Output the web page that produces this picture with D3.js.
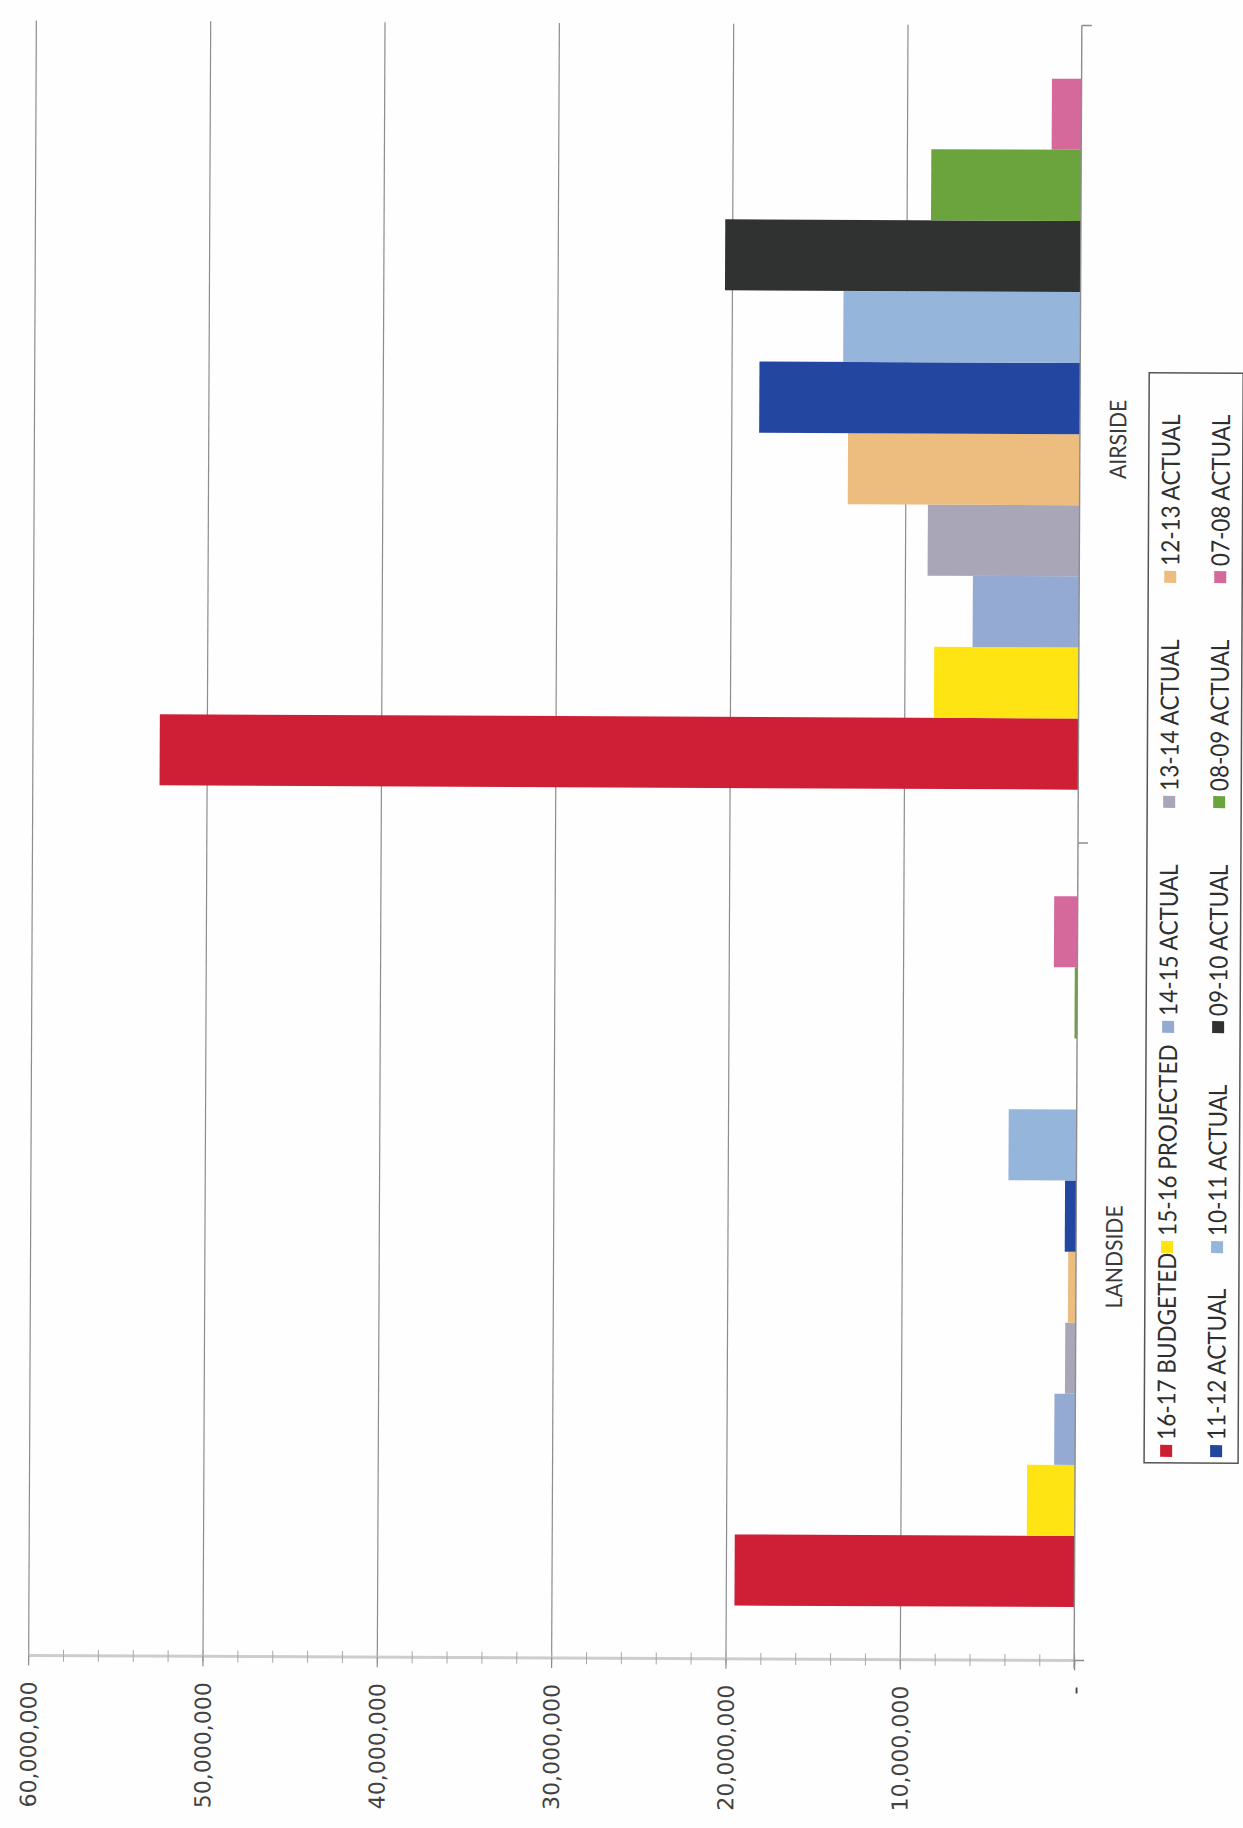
<!DOCTYPE html>
<html>
<head>
<meta charset="utf-8">
<title>Landside / Airside spending</title>
<script src="https://cdn.jsdelivr.net/npm/d3@7"></script>
<style>
  html, body { margin: 0; padding: 0; background: #fefefe; }
  svg { display: block; }
</style>
</head>
<body>
<svg id="chart" width="1243" height="1828"></svg>
<script>
// ---- data -------------------------------------------------------------
const categories = ["LANDSIDE", "AIRSIDE"];
const seriesNames = [
  "16-17 BUDGETED", "15-16 PROJECTED", "14-15 ACTUAL", "13-14 ACTUAL", "12-13 ACTUAL",
  "11-12 ACTUAL", "10-11 ACTUAL", "09-10 ACTUAL", "08-09 ACTUAL", "07-08 ACTUAL"
];
const landsideValues = [19500000, 2750000, 1200000, 600000, 450000, 650000, 3900000, 0, 150000, 1350000];
const airsideValues  = [52700000, 8300000, 6100000, 8700000, 13300000, 18400000, 13600000, 20400000, 8600000, 1700000];
const seriesColors = [
  "#cf1f36", "#ffe413", "#94aad2", "#a9a6b7", "#edbd80",
  "#2347a0", "#96b5da", "#2f3231", "#6ba33c", "#d5699c"
];
const tickValues = [0, 10000000, 20000000, 30000000, 40000000, 50000000, 60000000];
const tickLabels = ["-", "10,000,000", "20,000,000", "30,000,000", "40,000,000", "50,000,000", "60,000,000"];

const valuesByCategory = { LANDSIDE: landsideValues, AIRSIDE: airsideValues };

// ---- layout (page is printed sideways: value axis runs right-to-left) --
const plotTop = 23, plotBottom = 1658;
const zeroX = 1078, maxX = 32;
const narrowFont = "Lato, 'Open Sans', sans-serif";

const svg = d3.select("#chart");
const root = svg.append("g").attr("transform", "rotate(0.27 560 840)");

const x = d3.scaleLinear().domain([0, 60000000]).range([zeroX, maxX]);
const yCat = d3.scaleBand().domain(categories).range([plotBottom, plotTop]).padding(0);
const ySer = d3.scaleBand().domain(seriesNames).range([yCat.bandwidth(), 0])
  .paddingInner(0).paddingOuter(0.75);

// gridlines (major)
root.append("g")
  .attr("transform", `translate(0,${plotBottom})`)
  .call(d3.axisBottom(x).tickValues(tickValues.filter(v => v > 0))
    .tickSizeInner(-(plotBottom - plotTop)).tickSizeOuter(0).tickFormat(""))
  .call(g => g.select(".domain").remove())
  .call(g => g.selectAll("line").attr("stroke", "#8d8d8d").attr("stroke-width", 1.2));

// bars
const catGroups = root.append("g").selectAll("g.cat")
  .data(categories).join("g")
  .attr("class", "cat")
  .attr("transform", c => `translate(0,${yCat(c)})`);

catGroups.selectAll("rect")
  .data(c => seriesNames.map((s, i) => ({ s, i, v: valuesByCategory[c][i] })))
  .join("rect")
  .attr("x", d => x(d.v))
  .attr("width", d => x(0) - x(d.v))
  .attr("y", d => ySer(d.s))
  .attr("height", ySer.bandwidth())
  .attr("fill", d => seriesColors[d.i]);

// value axis line with minor and major ticks
root.append("line")
  .attr("x1", x(60000000)).attr("x2", x(0))
  .attr("y1", plotBottom).attr("y2", plotBottom)
  .attr("stroke", "#cdcdcd").attr("stroke-width", 3);

root.append("g")
  .attr("transform", `translate(0,${plotBottom - 6})`)
  .call(d3.axisBottom(x).tickValues(d3.range(0, 60000001, 2000000))
    .tickSizeInner(12).tickSizeOuter(0).tickFormat(""))
  .call(g => g.select(".domain").remove())
  .call(g => g.selectAll("line").attr("stroke", "#a8a8a8").attr("stroke-width", 1));

root.append("g")
  .attr("transform", `translate(0,${plotBottom})`)
  .call(d3.axisBottom(x).tickValues(tickValues)
    .tickSizeInner(10).tickSizeOuter(0).tickFormat(""))
  .call(g => g.select(".domain").remove())
  .call(g => g.selectAll("line").attr("stroke", "#8d8d8d").attr("stroke-width", 1.2));

// value axis labels (rotated)
root.append("g")
  .attr("transform", `translate(0,1684)`)
  .call(d3.axisBottom(x).tickValues(tickValues).tickSize(0)
    .tickFormat((d, i) => tickLabels[i]))
  .call(g => g.select(".domain").remove())
  .call(g => g.selectAll("text")
    .attr("x", 0).attr("y", 0).attr("dy", "0.36em")
    .attr("transform", "rotate(-90)")
    .attr("text-anchor", "end")
    .attr("font-family", "'DejaVu Sans', Verdana, sans-serif")
    .attr("font-size", 22)
    .attr("fill", "#424242"));

// category axis along zero
root.append("line")
  .attr("x1", x(0)).attr("x2", x(0))
  .attr("y1", plotTop).attr("y2", plotBottom + 8)
  .attr("stroke", "#8d8d8d").attr("stroke-width", 1.4);

const boundaries = [yCat("AIRSIDE"), yCat("LANDSIDE"), yCat("LANDSIDE") + yCat.bandwidth()];
root.append("g").selectAll("line").data(boundaries).join("line")
  .attr("x1", x(0)).attr("x2", x(0) + 10)
  .attr("y1", d => d).attr("y2", d => d)
  .attr("stroke", "#8d8d8d").attr("stroke-width", 1.4);

root.append("g").selectAll("text").data(categories).join("text")
  .attr("transform", c => `translate(1116,${yCat(c) + yCat.bandwidth() / 2 + 5}) rotate(-90) scale(0.92,1)`)
  .attr("text-anchor", "middle").attr("dy", "0.36em")
  .attr("font-family", narrowFont)
  .attr("font-size", 23)
  .attr("fill", "#3a3a3a")
  .text(c => c);

// legend: two rotated rows of five entries on a shared column grid
const legendBox = { x: 1147, y: 370, w: 94, h: 1090 };
root.append("rect")
  .attr("x", legendBox.x).attr("y", legendBox.y)
  .attr("width", legendBox.w).attr("height", legendBox.h)
  .attr("fill", "none").attr("stroke", "#555").attr("stroke-width", 1.5);

const legendRowX = [1169, 1219];
const legendColumnStarts = [1454, 1250, 1030, 805, 580];

const legendItems = root.append("g").selectAll("g")
  .data(seriesNames.map((s, i) => ({ s, i, row: Math.floor(i / 5), col: i % 5 })))
  .join("g")
  .attr("transform", d => `translate(${legendRowX[d.row]},${legendColumnStarts[d.col]})`);

legendItems.append("rect")
  .attr("x", -6).attr("y", -12).attr("width", 12).attr("height", 12)
  .attr("fill", d => seriesColors[d.i]);

legendItems.append("text")
  .attr("transform", "translate(0,-17) rotate(-90) scale(0.9,1)")
  .attr("dy", "0.36em")
  .attr("text-anchor", "start")
  .attr("font-family", narrowFont)
  .attr("font-size", 25)
  .attr("fill", "#2e2e2e")
  .text(d => d.s);
</script>
</body>
</html>
